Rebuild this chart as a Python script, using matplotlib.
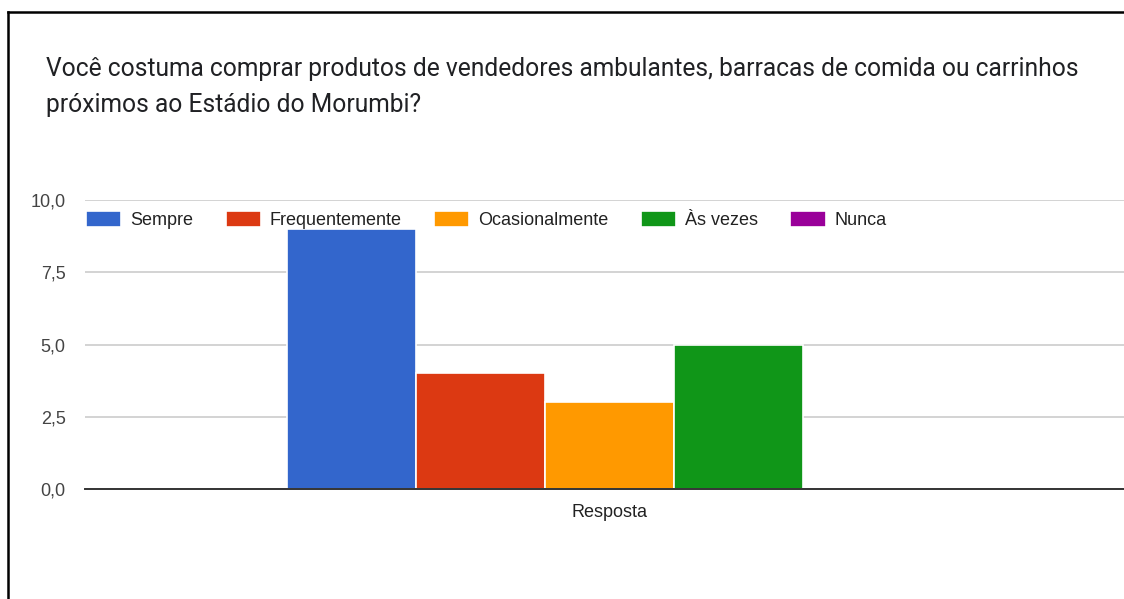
import matplotlib.pyplot as plt
from matplotlib.lines import Line2D
from matplotlib.ticker import FuncFormatter

plt.rcParams['font.family'] = ['Liberation Sans', 'DejaVu Sans']

# data
categories = ['Sempre', 'Frequentemente', 'Ocasionalmente', 'Às vezes', 'Nunca']
values = [9, 4, 3, 5, 0]
colors = ['#3366cc', '#dc3912', '#ff9900', '#109618', '#990099']
yticks = [0, 2.5, 5, 7.5, 10]
title = ('Você costuma comprar produtos de vendedores ambulantes, barracas de comida ou carrinhos\n'
         'próximos ao Estádio do Morumbi?')

W, H = 1124, 599
fig = plt.figure(figsize=(W / 100, H / 100), dpi=100)

# axes in pixel box: left 85, right 1124, top 200, bottom 489
ax = fig.add_axes([85 / W, 1 - 489 / H, (1124 - 85) / W, (489 - 200) / H])

for i, (c, v, col) in enumerate(zip(categories, values, colors)):
    ax.bar(i, v, width=1.0, color=col, edgecolor='white', linewidth=1.2, label=c)

px = 129.0
left = -0.5 - (287 - 85) / px
ax.set_xlim(left, left + (1124 - 85) / px)
ax.set_ylim(0, 10)
ax.set_yticks(yticks)
ax.yaxis.set_major_formatter(FuncFormatter(lambda v, p: f'{v:.1f}'.replace('.', ',')))
ax.set_xticks([2])
ax.set_xticklabels(['Resposta'])
ax.tick_params(axis='x', length=0, pad=11, labelsize=13, labelcolor='#222222')
ax.tick_params(axis='y', length=0, pad=14, labelsize=13, labelcolor='#444444')
ax.grid(axis='y', color='#cccccc', linewidth=1.2)
ax.set_axisbelow(True)
for s in ['top', 'right', 'left']:
    ax.spines[s].set_visible(False)
ax.spines['bottom'].set_color('#333333')
ax.spines['bottom'].set_linewidth(1.4)
ax.spines['bottom'].set_zorder(5)

leg = ax.legend(loc='upper left', bbox_to_anchor=(86 / W, 1 - 211 / H),
                bbox_transform=fig.transFigure, ncol=5, frameon=False,
                fontsize=13, handlelength=1.94, handleheight=0.95,
                handletextpad=0.5, columnspacing=1.8, borderpad=0, borderaxespad=0)
for t in leg.get_texts():
    t.set_color('#222222')

fig.text(46 / W, 1 - 87 / H, title, fontsize=17.7, color='#202124',
         ha='left', va='center', linespacing=1.62, family=['Roboto', 'DejaVu Sans'])

# partially visible heading above the frame
fig.text(508 / W, 1 - (-6) / H, 'estádio', fontsize=14, color='#555555',
         ha='center', va='center', family=['Roboto', 'DejaVu Sans'])

# frame lines
fig.add_artist(Line2D([8 / W, 1], [1 - 12 / H, 1 - 12 / H], color='black', linewidth=1.8,
                      transform=fig.transFigure))
fig.add_artist(Line2D([8 / W, 8 / W], [1 - 12 / H, 0], color='black', linewidth=1.8,
                      transform=fig.transFigure))

fig.savefig('out.png', dpi=100)
